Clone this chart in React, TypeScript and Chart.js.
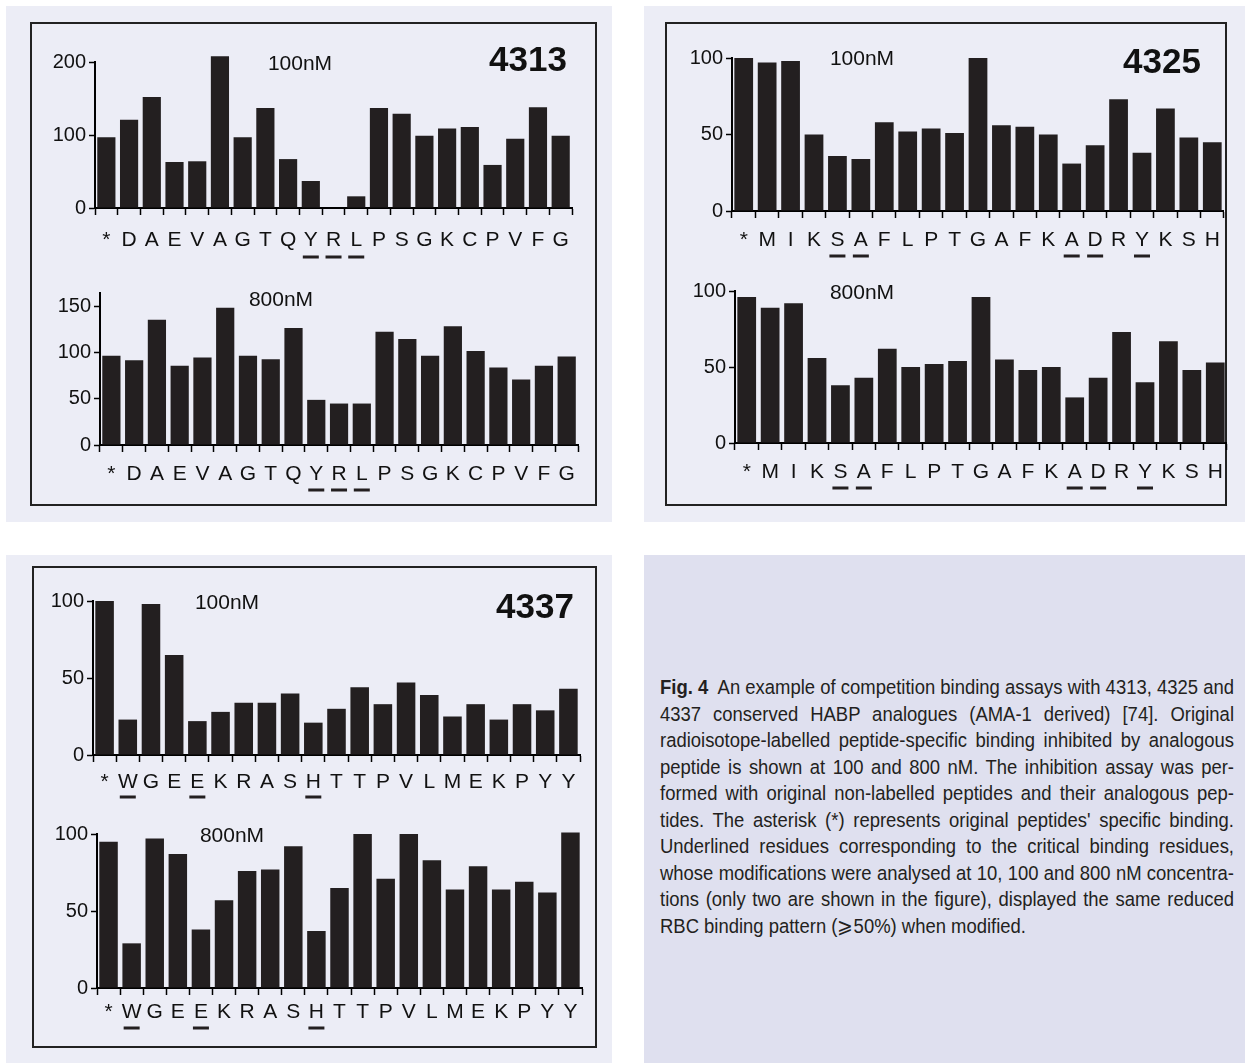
import React, { useEffect, useRef } from 'react';
import { Chart, registerables } from 'chart.js';
Chart.register(...registerables);

// ---------- data ----------
const labels4313 = ['*', 'D', 'A', 'E', 'V', 'A', 'G', 'T', 'Q', 'Y', 'R', 'L', 'P', 'S', 'G', 'K', 'C', 'P', 'V', 'F', 'G'];
const values4313_100 = [97, 121, 152, 63, 64, 208, 97, 137, 67, 37, 0, 16, 137, 129, 99, 109, 111, 59, 95, 138, 99];
const values4313_800 = [97, 92, 136, 86, 95, 149, 97, 93, 127, 49, 45, 45, 123, 115, 97, 129, 102, 84, 71, 86, 96];
const underlined4313 = [9, 10, 11];

const labels4325 = ['*', 'M', 'I', 'K', 'S', 'A', 'F', 'L', 'P', 'T', 'G', 'A', 'F', 'K', 'A', 'D', 'R', 'Y', 'K', 'S', 'H'];
const values4325_100 = [100, 97, 98, 50, 36, 34, 58, 52, 54, 51, 100, 56, 55, 50, 31, 43, 73, 38, 67, 48, 45];
const values4325_800 = [96, 89, 92, 56, 38, 43, 62, 50, 52, 54, 96, 55, 48, 50, 30, 43, 73, 40, 67, 48, 53];
const underlined4325 = [4, 5, 14, 15, 17];

const labels4337 = ['*', 'W', 'G', 'E', 'E', 'K', 'R', 'A', 'S', 'H', 'T', 'T', 'P', 'V', 'L', 'M', 'E', 'K', 'P', 'Y', 'Y'];
const values4337_100 = [100, 23, 98, 65, 22, 28, 34, 34, 40, 21, 30, 44, 33, 47, 39, 25, 33, 23, 33, 29, 43];
const values4337_800 = [95, 29, 97, 87, 38, 57, 76, 77, 92, 37, 65, 100, 71, 100, 83, 64, 79, 64, 69, 62, 101];
const underlined4337 = [1, 4, 9];

const captionLines = [
  'An example of competition binding assays with 4313, 4325 and',
  '4337 conserved HABP analogues (AMA-1 derived) [74]. Original',
  'radioisotope-labelled peptide-specific binding inhibited by analogous',
  'peptide is shown at 100 and 800 nM. The inhibition assay was per-',
  'formed with original non-labelled peptides and their analogous pep-',
  "tides. The asterisk (*) represents original peptides' specific binding.",
  'Underlined residues corresponding to the critical binding residues,',
  'whose modifications were analysed at 10, 100 and 800 nM concentra-',
  'tions (only two are shown in the figure), displayed the same reduced',
  'RBC binding pattern (\u2A7E50%) when modified.',
];

// ---------- layout / style ----------
const FONT = '"Liberation Sans", Arial, Helvetica, sans-serif';
const BAR = '#231f20';
const PANEL_BG = '#ecedf6';
const CAPTION_BG = '#dfe0ef';
const YW = 50;
const XH = 56;
const PADT = 14;
const PADR = 6;
const CAP_SCALE = 0.9;

type Sub = {
  labels: string[];
  values: number[];
  underlined: number[];
  axisX: number;
  yTop: number;
  yBottom: number;
  xRight: number;
  max: number;
  step: number;
  labelPad: number;
  ulOffset: number;
};

const underlinePlugin = {
  id: 'underlines',
  afterDraw(chart: any, _args: any, opts: any) {
    const xs = chart.scales.x;
    const ctx = chart.ctx;
    const y = xs.top + opts.offset;
    ctx.save();
    ctx.fillStyle = BAR;
    (opts.indices as number[]).forEach((i) => {
      const px = xs.getPixelForValue(i);
      ctx.fillRect(px - 8, y - 1.5, 16, 3);
    });
    ctx.restore();
  },
};

function SubChart({ s }: { s: Sub }) {
  const ref = useRef<HTMLCanvasElement | null>(null);
  const width = s.xRight - s.axisX + YW + PADR;
  const height = s.yBottom - s.yTop + PADT + XH;
  useEffect(() => {
    if (!ref.current) return;
    const chart = new Chart(ref.current, {
      type: 'bar',
      data: {
        labels: s.labels,
        datasets: [
          {
            data: s.values,
            backgroundColor: BAR,
            borderWidth: 0,
            barPercentage: 0.8,
            categoryPercentage: 1,
            clip: false,
          } as any,
        ],
      },
      plugins: [underlinePlugin as any],
      options: {
        responsive: false,
        animation: false,
        events: [],
        layout: { padding: { top: PADT, right: PADR, left: 0, bottom: 0 } },
        plugins: {
          legend: { display: false },
          tooltip: { enabled: false },
          title: { display: false },
          underlines: { indices: s.underlined, offset: s.ulOffset },
        } as any,
        scales: {
          x: {
            offset: true,
            grid: {
              offset: true,
              drawOnChartArea: false,
              drawTicks: true,
              tickLength: 7,
              tickColor: '#000',
              tickWidth: 1.5,
            },
            border: { display: true, color: '#000', width: 2 },
            ticks: {
              color: '#111',
              font: { family: FONT, size: 21 },
              padding: s.labelPad,
              autoSkip: false,
              maxRotation: 0,
              minRotation: 0,
            },
            afterFit: (ax: any) => {
              ax.height = XH;
            },
          },
          y: {
            min: 0,
            max: s.max,
            grid: {
              drawOnChartArea: false,
              drawTicks: true,
              tickLength: 6,
              tickColor: '#000',
              tickWidth: 1.5,
            },
            border: { display: true, color: '#000', width: 2 },
            ticks: {
              stepSize: s.step,
              color: '#111',
              font: { family: FONT, size: 20 },
              padding: 3,
            },
            afterBuildTicks: (ax: any) => {
              const t: { value: number }[] = [];
              for (let v = 0; v <= s.max; v += s.step) t.push({ value: v });
              ax.ticks = t;
            },
            afterFit: (ax: any) => {
              ax.width = YW;
            },
          },
        },
      },
    });
    return () => chart.destroy();
  }, []);
  return (
    <canvas
      ref={ref}
      width={width}
      height={height}
      style={{
        position: 'absolute',
        left: s.axisX - YW,
        top: s.yTop - PADT,
        width,
        height,
      }}
    />
  );
}

function Txt({ x, y, text, size, bold }: { x: number; y: number; text: string; size: number; bold?: boolean }) {
  return (
    <div
      style={{
        position: 'absolute',
        left: x,
        top: y,
        transform: 'translate(-50%, -50%)',
        fontFamily: FONT,
        fontSize: size,
        fontWeight: bold ? 'bold' : 'normal',
        lineHeight: 1,
        whiteSpace: 'nowrap',
        color: '#111',
        zIndex: 2,
      }}
    >
      {text}
    </div>
  );
}

const subs: Sub[] = [
  { labels: labels4313, values: values4313_100, underlined: underlined4313, axisX: 95, yTop: 61, yBottom: 208, xRight: 576, max: 200, step: 100, labelPad: 13, ulOffset: 49 },
  { labels: labels4313, values: values4313_800, underlined: underlined4313, axisX: 100, yTop: 292, yBottom: 445, xRight: 579, max: 165, step: 50, labelPad: 10, ulOffset: 45 },
  { labels: labels4325, values: values4325_100, underlined: underlined4325, axisX: 732, yTop: 57, yBottom: 211, xRight: 1224, max: 100, step: 50, labelPad: 10, ulOffset: 45 },
  { labels: labels4325, values: values4325_800, underlined: underlined4325, axisX: 735, yTop: 290, yBottom: 443, xRight: 1227, max: 100, step: 50, labelPad: 10, ulOffset: 45 },
  { labels: labels4337, values: values4337_100, underlined: underlined4337, axisX: 93, yTop: 600, yBottom: 755, xRight: 580, max: 100, step: 50, labelPad: 8, ulOffset: 42 },
  { labels: labels4337, values: values4337_800, underlined: underlined4337, axisX: 97, yTop: 833, yBottom: 988, xRight: 582, max: 100, step: 50, labelPad: 5, ulOffset: 40 },
];

function Box({ left, top, right, bottom }: { left: number; top: number; right: number; bottom: number }) {
  return (
    <div
      style={{
        position: 'absolute',
        left,
        top,
        width: right - left,
        height: bottom - top,
        border: '2px solid #222',
        boxSizing: 'border-box',
      }}
    />
  );
}

export default function App() {
  return (
    <div
      style={{
        position: 'fixed',
        left: 0,
        top: 0,
        width: 1245,
        height: 1063,
        background: '#ffffff',
        overflow: 'hidden',
      }}
    >
      <div style={{ position: 'absolute', left: 6, top: 6, width: 606, height: 516, background: PANEL_BG }} />
      <div style={{ position: 'absolute', left: 644, top: 6, width: 601, height: 516, background: PANEL_BG }} />
      <div style={{ position: 'absolute', left: 6, top: 555, width: 606, height: 508, background: PANEL_BG }} />
      <div style={{ position: 'absolute', left: 644, top: 555, width: 601, height: 508, background: CAPTION_BG }} />

      <Box left={30} top={22} right={597} bottom={506} />
      <Box left={665} top={22} right={1227} bottom={506} />
      <Box left={32} top={566} right={597} bottom={1048} />

      {subs.map((s, i) => (
        <SubChart key={i} s={s} />
      ))}

      <Txt x={300} y={62} text="100nM" size={21} />
      <Txt x={528} y={58} text="4313" size={35} bold />
      <Txt x={281} y={298} text="800nM" size={21} />

      <Txt x={862} y={57} text="100nM" size={21} />
      <Txt x={1162} y={60} text="4325" size={35} bold />
      <Txt x={862} y={291} text="800nM" size={21} />

      <Txt x={227} y={601} text="100nM" size={21} />
      <Txt x={535} y={605} text="4337" size={35} bold />
      <Txt x={232} y={834} text="800nM" size={21} />

      <div
        style={{
          position: 'absolute',
          left: 660,
          top: 674,
          width: 574 / CAP_SCALE,
          transform: `scaleX(${CAP_SCALE})`,
          transformOrigin: 'left top',
          fontFamily: FONT,
          fontSize: 20.5,
          lineHeight: '26.5px',
          color: '#231f20',
        }}
      >
        {captionLines.map((line, i) => (
          <div
            key={i}
            style={{
              whiteSpace: 'nowrap',
              textAlign: i === captionLines.length - 1 ? 'left' : 'justify',
              textAlignLast: i === captionLines.length - 1 ? 'left' : 'justify',
            } as any}
          >
            {i === 0 ? (
              <>
                <b>Fig. 4</b>
                {'\u00A0 '}
              </>
            ) : null}
            {line}
          </div>
        ))}
      </div>
    </div>
  );
}
